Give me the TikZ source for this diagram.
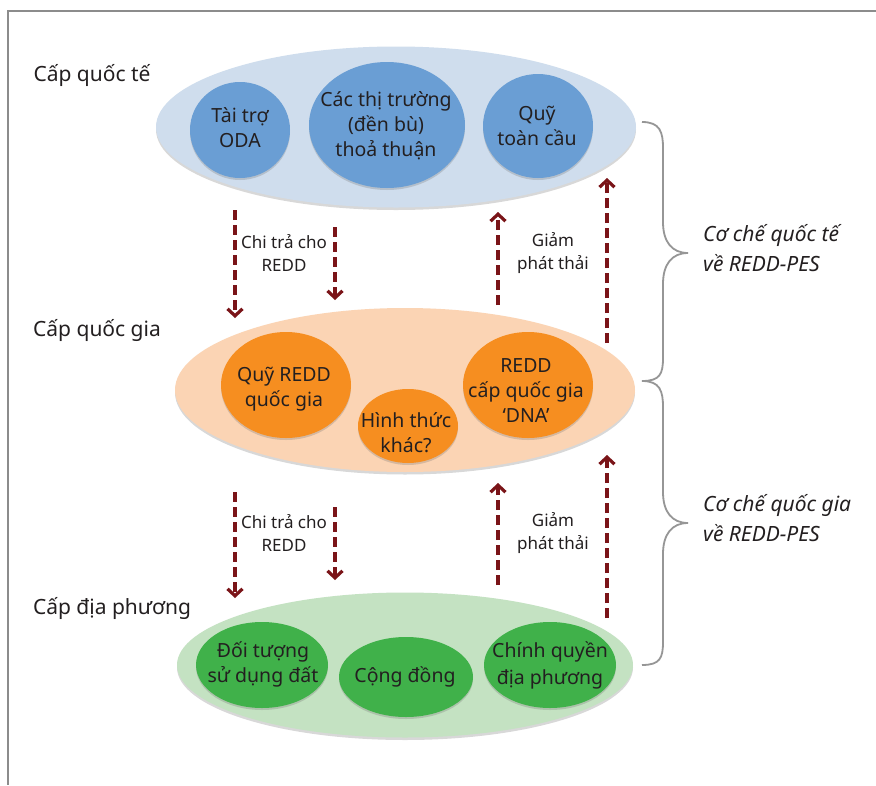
\documentclass[tikz,border=0pt]{standalone}
\usepackage{fontspec}
\setmainfont{Noto Sans}
\usetikzlibrary{shapes.geometric,arrows.meta,shadows}
\definecolor{framegray}{RGB}{140,140,140}
\definecolor{lblue}{RGB}{207,221,237}
\definecolor{mblue}{RGB}{106,158,212}
\definecolor{lpeach}{RGB}{251,212,180}
\definecolor{morange}{RGB}{246,142,32}
\definecolor{lgreen}{RGB}{196,226,194}
\definecolor{mgreen}{RGB}{64,177,74}
\definecolor{darkred}{RGB}{122,20,24}
\definecolor{txt}{RGB}{35,31,32}
\definecolor{bracegray}{RGB}{150,150,150}
\begin{document}
\begin{tikzpicture}[x=1pt,y=-1pt,
  bigell/.style={ellipse, inner sep=0pt, draw=none,
    drop shadow={shadow xshift=0pt, shadow yshift=-2.5pt, opacity=0.25, fill=black!60}},
  bub/.style={ellipse, inner sep=0pt, draw=none,
    drop shadow={shadow xshift=0pt, shadow yshift=-2pt, opacity=0.25, fill=black!60}},
  btxt/.style={align=center, text=txt, font=\fontsize{19.5}{25}\selectfont, inner sep=0pt},
  lvl/.style={text=txt, font=\fontsize{21}{25}\selectfont, inner sep=0pt},
  small/.style={align=center, text=txt, font=\fontsize{17}{23}\selectfont, inner sep=0pt},
  mech/.style={align=left, text=txt, font=\itshape\fontsize{21}{30}\selectfont, inner sep=0pt, anchor=west},
  flow/.style={draw=darkred, line width=3.6pt, dash pattern=on 10pt off 5pt,
    -{Straight Barb[length=7pt,width=15pt,line width=3.2pt]}},
  bracestyle/.style={draw=bracegray, line width=1.8pt}
]
\useasboundingbox (0,0) rectangle (876,785);
\fill[white] (0,0) rectangle (876,785);
% frame
\draw[framegray, line width=2pt] (876,11) -- (8,11) -- (8,785);

% level labels
\node[lvl] (l1) at (92,75) {Cấp quốc tế};
\node[lvl] (l2) at (97,330) {Cấp quốc gia};
\node[lvl] (l3) at (112,608) {Cấp địa phương};

% top level
\node[bigell, fill=lblue, minimum width=480pt, minimum height=161pt] (E1) at (396,127) {};
\node[bub, fill=mblue, minimum width=100pt, minimum height=96pt] (b11) at (240,130) {};
\node[bub, fill=mblue, minimum width=156pt, minimum height=126pt] (b12) at (387,125) {};
\node[bub, fill=mblue, minimum width=110pt, minimum height=104pt] (b13) at (538,126) {};
\node[btxt] (t11) at (240,128) {Tài trợ\\ODA};
\node[btxt] (t12) at (386,126) {Các thị trường\\(đền bù)\\thoả thuận};
\node[btxt] (t13) at (537,126) {Quỹ\\toàn cầu};

% national level
\node[bigell, fill=lpeach, minimum width=460pt, minimum height=164pt] (E2) at (405,390) {};
\node[bub, fill=morange, minimum width=130pt, minimum height=106pt] (b21) at (286,385) {};
\node[bub, fill=morange, minimum width=100pt, minimum height=74pt] (b22) at (408,426) {};
\node[bub, fill=morange, minimum width=130pt, minimum height=106pt] (b23) at (528,385) {};
\node[btxt] (t21) at (284,389) {Quỹ REDD\\quốc gia};
\node[btxt] (t22) at (406,433) {Hình thức\\khác?};
\node[btxt] (t23) at (526,391) {REDD\\cấp quốc gia\\‘DNA’};

% local level
\node[bigell, fill=lgreen, minimum width=456pt, minimum height=145pt] (E3) at (405,665) {};
\node[bub, fill=mgreen, minimum width=132pt, minimum height=86pt] (b31) at (262,665) {};
\node[bub, fill=mgreen, minimum width=134pt, minimum height=80pt] (b32) at (406,677) {};
\node[bub, fill=mgreen, minimum width=132pt, minimum height=86pt] (b33) at (550,665) {};
\node[btxt] (t31) at (263,664) {Đối tượng\\sử dụng đất};
\node[btxt] (t32) at (405,677) {Cộng đồng};
\node[btxt, font=\fontsize{19.5}{27}\selectfont] (t33) at (550,665) {Chính quyền\\địa phương};

% arrows upper
\coordinate (a1s) at (235,210); \coordinate (a1e) at (235,318);
\coordinate (a2s) at (335,227); \coordinate (a2e) at (335,300);
\coordinate (a3s) at (498,305); \coordinate (a3e) at (498,212);
\coordinate (a4s) at (607,343); \coordinate (a4e) at (607,178);
\draw[flow] (a1s) -- (a1e);
\draw[flow] (a2s) -- (a2e);
\draw[flow] (a3s) -- (a3e);
\draw[flow] (a4s) -- (a4e);
\node[small] (c1) at (284,253) {Chi trả cho\\REDD};
\node[small] (g1) at (553,253) {Giảm\\phát thải};

% arrows lower
\coordinate (b1s) at (235,492); \coordinate (b1e) at (235,598);
\coordinate (b2s) at (335,507); \coordinate (b2e) at (335,580);
\coordinate (b3s) at (498,585); \coordinate (b3e) at (498,483);
\coordinate (b4s) at (607,618); \coordinate (b4e) at (607,455);
\draw[flow] (b1s) -- (b1e);
\draw[flow] (b2s) -- (b2e);
\draw[flow] (b3s) -- (b3e);
\draw[flow] (b4s) -- (b4e);
\node[small] (c2) at (284,533) {Chi trả cho\\REDD};
\node[small] (g2) at (553,533) {Giảm\\phát thải};

% braces
\coordinate (br1t) at (642,122); \coordinate (br1m) at (688,253); \coordinate (br1b) at (642,381);
\coordinate (br2t) at (642,381); \coordinate (br2m) at (688,523); \coordinate (br2b) at (642,665);
\draw[bracestyle] (br1t) .. controls (660,122) and (663,132) .. (663,148)
  -- (663,222) .. controls (663,242) and (672,253) .. (br1m)
  .. controls (672,253) and (663,264) .. (663,284)
  -- (663,358) .. controls (663,374) and (660,381) .. (br1b);
\draw[bracestyle] (br2t) .. controls (660,381) and (663,391) .. (663,407)
  -- (663,492) .. controls (663,512) and (672,523) .. (br2m)
  .. controls (672,523) and (663,534) .. (663,554)
  -- (663,642) .. controls (663,658) and (660,665) .. (br2b);
\node[mech] (m1) at (703,248) {Cơ chế quốc tế\\về REDD-PES};
\node[mech] (m2) at (703,518) {Cơ chế quốc gia\\về REDD-PES};
\end{tikzpicture}
\end{document}
